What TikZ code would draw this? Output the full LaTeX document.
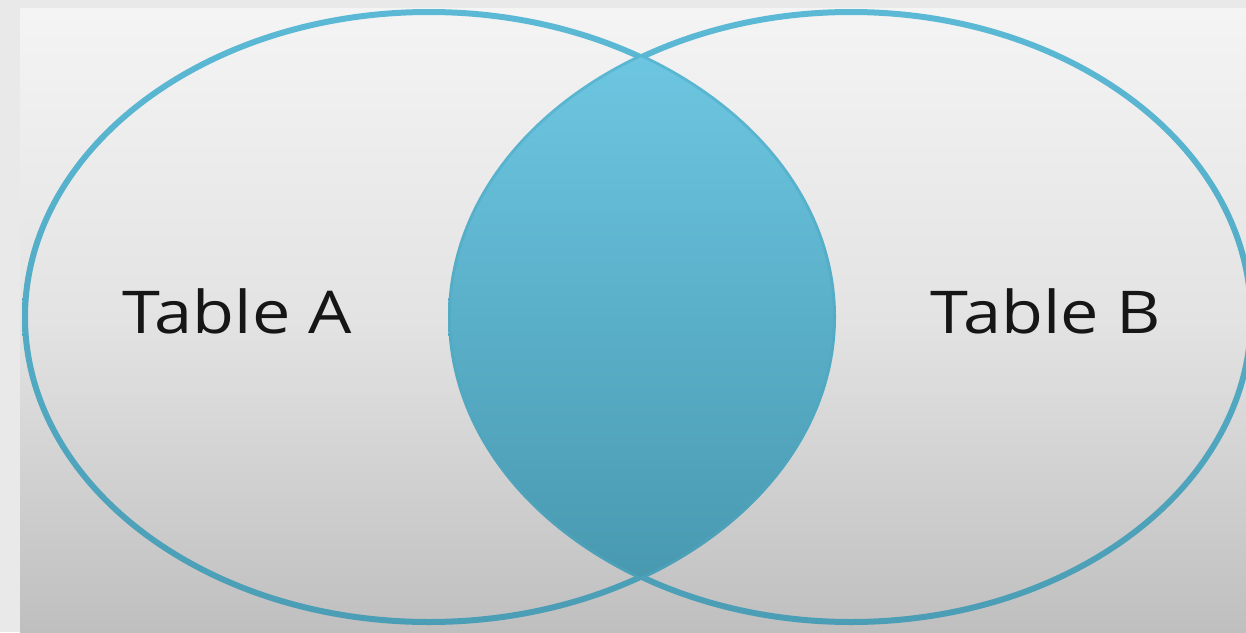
\documentclass[tikz,border=0pt]{standalone}
\usepackage{fontspec}
\setmainfont{Open Sans}
\usepackage{graphicx}
\definecolor{frame}{HTML}{E9E9E9}
\definecolor{bgtop}{HTML}{F4F4F4}
\definecolor{bgmid}{HTML}{E3E3E3}
\definecolor{bgbot}{HTML}{BFBFBF}
\definecolor{lenstop}{HTML}{6DC6E1}
\definecolor{lensbot}{HTML}{4899B0}
\definecolor{linetop}{HTML}{5CBAD6}
\definecolor{linebot}{HTML}{4A9DB4}
\definecolor{txt}{HTML}{161616}
\tikzset{
  label text/.style={font=\fontsize{59}{64}\selectfont, text=txt, inner sep=0pt, anchor=base}
}
\begin{document}
\begin{tikzpicture}[x=1pt,y=-1pt]
  \useasboundingbox (0,0) rectangle (1246,632);
  % background
  \fill[frame] (0,0) rectangle (1246,632);
  \shade[top color=bgtop, bottom color=bgbot, middle color=bgmid] (20,8) rectangle (1246,632);
  % ellipse outlines with vertical gradient
  \begin{scope}[even odd rule]
    \clip (429,317) ellipse (407 and 308) (429,317) ellipse (401 and 302);
    \shade[top color=linetop, bottom color=linebot] (0,0) rectangle (1246,632);
  \end{scope}
  \begin{scope}[even odd rule]
    \clip (851,317) ellipse (403 and 308) (851,317) ellipse (397 and 302);
    \shade[top color=linetop, bottom color=linebot] (0,0) rectangle (1246,632);
  \end{scope}
  % intersection lens
  \begin{scope}
    \clip (429,317) ellipse (404 and 305);
    \clip (851,317) ellipse (400 and 305);
    \shade[top color=lenstop, bottom color=lensbot] (440,55) rectangle (840,580);
  \end{scope}
  % labels
  \node[label text] (ta) at (237,333) {\scalebox{1.16}[1]{Table A}};
  \node[label text] (tb) at (1046,333) {\scalebox{1.16}[1]{Table B}};
\end{tikzpicture}
\end{document}
